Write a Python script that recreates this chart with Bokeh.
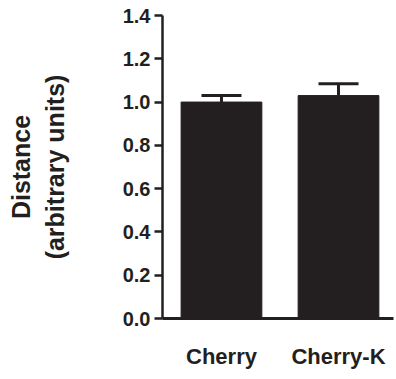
from bokeh.plotting import figure
from bokeh.models import Range1d, FixedTicker, ColumnDataSource, Whisker, TeeHead, NumeralTickFormatter
from bokeh.embed import file_html
from bokeh.resources import INLINE

categories = ["Cherry", "Cherry-K"]
values = [1.0, 1.03]
errors = [0.03, 0.055]
y_ticks = [0.0, 0.2, 0.4, 0.6, 0.8, 1.0, 1.2, 1.4]

INK = "#231f20"
FONT = "Liberation Sans"

xs = list(range(1, len(categories) + 1))
src = ColumnDataSource(dict(
    x=xs,
    top=values,
    lower=values,
    upper=[v + e for v, e in zip(values, errors)],
))

p = figure(width=396, height=379,
           x_range=Range1d(0.496, 2.47), y_range=Range1d(0, 1.4),
           output_backend="svg", toolbar_location=None,
           min_border_left=162, min_border_right=3,
           min_border_top=15, min_border_bottom=61)
p.outline_line_color = None
p.grid.visible = False
p.background_fill_color = "white"

p.vbar(x="x", top="top", width=0.69, source=src,
       fill_color=INK, line_color=INK)

w = Whisker(base="x", upper="upper", lower="lower", source=src,
            dimension="height", line_color=INK, line_width=3,
            upper_head=TeeHead(size=40, line_width=3, line_color=INK),
            lower_head=None)
p.add_layout(w)

ya = p.yaxis[0]
ya.ticker = FixedTicker(ticks=y_ticks)
ya.formatter = NumeralTickFormatter(format="0.0")
ya.axis_line_width = 2.5
ya.axis_line_color = INK
ya.major_tick_line_width = 2.5
ya.major_tick_line_color = INK
ya.major_tick_out = 8
ya.major_tick_in = 0
ya.minor_tick_out = 0
ya.minor_tick_in = 0
ya.major_label_text_font = FONT
ya.major_label_text_font_style = "bold"
ya.major_label_text_font_size = "20px"
ya.major_label_text_color = INK
ya.major_label_standoff = 4
ya.axis_label = "Distance\n(arbitrary units)"
ya.axis_label_text_font = FONT
ya.axis_label_text_font_style = "bold"
ya.axis_label_text_font_size = "25px"
ya.axis_label_text_color = INK
ya.axis_label_standoff = 51
ya.axis_label_text_line_height = 1.2

xa = p.xaxis[0]
xa.ticker = FixedTicker(ticks=xs)
xa.major_label_overrides = {x: c for x, c in zip(xs, categories)}
xa.axis_line_width = 3
xa.axis_line_color = INK
xa.major_tick_out = 0
xa.major_tick_in = 0
xa.minor_tick_out = 0
xa.minor_tick_in = 0
xa.major_label_text_font = FONT
xa.major_label_text_font_style = "bold"
xa.major_label_text_font_size = "22px"
xa.major_label_text_color = INK
xa.major_label_standoff = 25

open("out.html", "w").write(file_html(p, INLINE))
